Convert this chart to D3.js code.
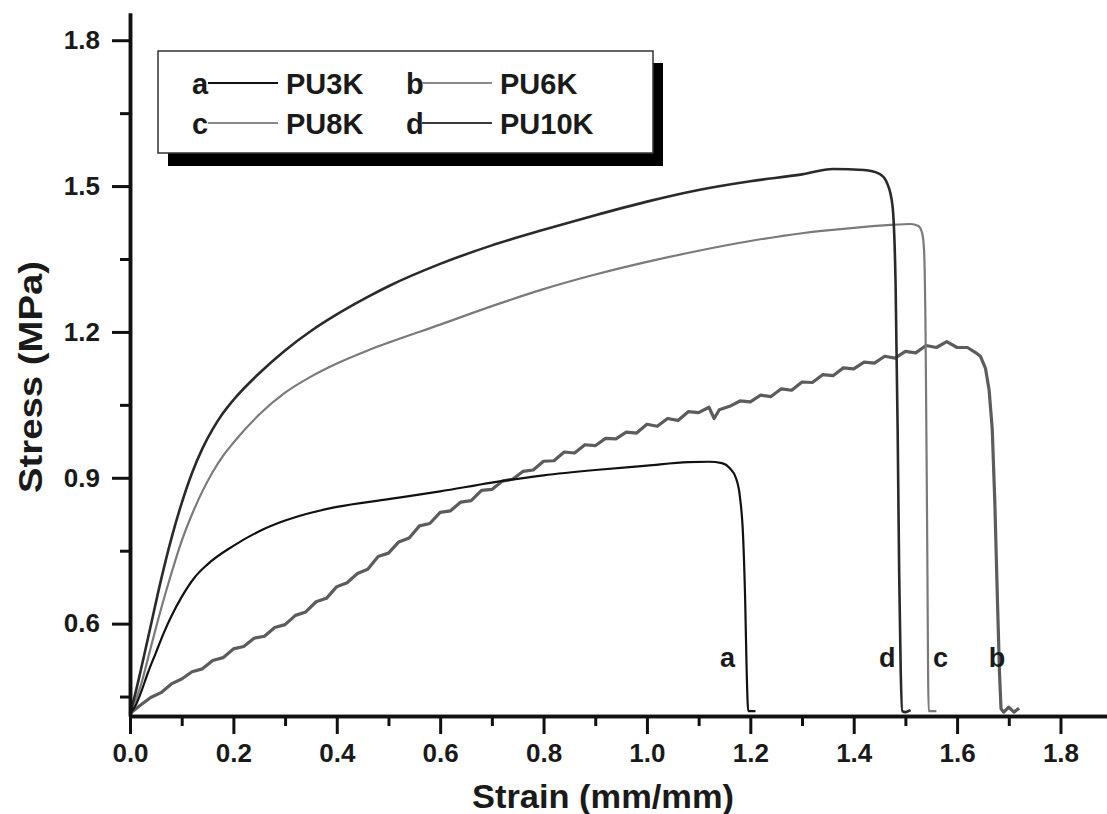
<!DOCTYPE html>
<html>
<head>
<meta charset="utf-8">
<script src="https://cdn.jsdelivr.net/npm/d3@7"></script>
<style>
  body { margin: 0; background: #fff; }
  svg text { font-family: "Liberation Sans", Arial, sans-serif; font-weight: bold; fill: #1a1a1a; }
</style>
</head>
<body>
<svg id="chart" width="1107" height="814"></svg>
<script>
// 試料名と凡例の記号
const seriesKeys = ["a", "b", "c", "d"];
const seriesNames = ["PU3K", "PU6K", "PU8K", "PU10K"];

// a: PU3K
const strainPU3K = [0, 0.01, 0.02, 0.035, 0.05, 0.065, 0.08, 0.1, 0.125, 0.15, 0.2, 0.25, 0.3, 0.35, 0.4, 0.5, 0.6, 0.7, 0.8, 0.9, 1.0, 1.08, 1.12, 1.145, 1.16, 1.172, 1.18, 1.186, 1.19, 1.193, 1.196, 1.21];
const stressPU3K = [0.415, 0.43, 0.455, 0.5, 0.54, 0.58, 0.615, 0.655, 0.695, 0.722, 0.76, 0.79, 0.812, 0.828, 0.84, 0.856, 0.872, 0.89, 0.905, 0.916, 0.925, 0.932, 0.933, 0.93, 0.92, 0.9, 0.86, 0.78, 0.65, 0.5, 0.42, 0.42];

// b: PU6K (ノイズの多い曲線)
const strainPU6K = [0, 0.02, 0.04, 0.06, 0.08, 0.1, 0.12, 0.14, 0.16, 0.18, 0.2, 0.22, 0.24, 0.26, 0.28, 0.3, 0.32, 0.34, 0.36, 0.38, 0.4, 0.42, 0.44, 0.46, 0.48, 0.5, 0.52, 0.54, 0.56, 0.58, 0.6, 0.62, 0.64, 0.66, 0.68, 0.7, 0.72, 0.74, 0.76, 0.78, 0.8, 0.82, 0.84, 0.86, 0.88, 0.9, 0.92, 0.94, 0.96, 0.98, 1.0, 1.02, 1.04, 1.06, 1.08, 1.1, 1.12, 1.13, 1.14, 1.16, 1.18, 1.2, 1.22, 1.24, 1.26, 1.28, 1.3, 1.32, 1.34, 1.36, 1.38, 1.4, 1.42, 1.44, 1.46, 1.48, 1.5, 1.52, 1.54, 1.56, 1.58, 1.6, 1.62, 1.635, 1.645, 1.655, 1.662, 1.668, 1.673, 1.678, 1.682, 1.685, 1.69, 1.7, 1.71, 1.72];
const stressPU6K = [0.415, 0.432, 0.448, 0.458, 0.476, 0.486, 0.501, 0.507, 0.524, 0.53, 0.548, 0.553, 0.57, 0.574, 0.592, 0.598, 0.617, 0.624, 0.645, 0.652, 0.676, 0.684, 0.703, 0.712, 0.738, 0.745, 0.768, 0.776, 0.801, 0.806, 0.829, 0.832, 0.85, 0.853, 0.874, 0.876, 0.893, 0.897, 0.913, 0.916, 0.934, 0.935, 0.953, 0.951, 0.968, 0.966, 0.981, 0.98, 0.994, 0.992, 1.01, 1.006, 1.022, 1.018, 1.036, 1.034, 1.045, 1.022, 1.04, 1.047, 1.058, 1.056, 1.07, 1.067, 1.083, 1.08, 1.097, 1.096, 1.112, 1.11, 1.126, 1.124, 1.138, 1.136, 1.15, 1.146, 1.16, 1.157, 1.172, 1.168, 1.18, 1.168, 1.168, 1.158, 1.15, 1.125, 1.08, 1.0, 0.85, 0.65, 0.5, 0.425, 0.418, 0.428, 0.418, 0.426];

// c: PU8K
const strainPU8K = [0, 0.01, 0.02, 0.04, 0.06, 0.08, 0.1, 0.12, 0.14, 0.16, 0.18, 0.2, 0.25, 0.3, 0.35, 0.4, 0.46, 0.5, 0.6, 0.7, 0.8, 0.9, 1.0, 1.1, 1.2, 1.3, 1.4, 1.47, 1.51, 1.525, 1.532, 1.536, 1.539, 1.542, 1.545, 1.56];
const stressPU8K = [0.415, 0.44, 0.47, 0.55, 0.63, 0.703, 0.77, 0.825, 0.872, 0.912, 0.945, 0.972, 1.03, 1.075, 1.108, 1.135, 1.162, 1.178, 1.215, 1.253, 1.288, 1.318, 1.344, 1.367, 1.387, 1.403, 1.414, 1.42, 1.422, 1.418, 1.405, 1.37, 1.2, 0.8, 0.42, 0.42];

// d: PU10K
const strainPU10K = [0, 0.01, 0.02, 0.04, 0.06, 0.08, 0.1, 0.12, 0.14, 0.16, 0.18, 0.2, 0.25, 0.3, 0.35, 0.4, 0.46, 0.5, 0.6, 0.7, 0.8, 0.9, 1.0, 1.1, 1.2, 1.3, 1.36, 1.42, 1.45, 1.465, 1.475, 1.481, 1.485, 1.488, 1.491, 1.494, 1.5, 1.51];
const stressPU10K = [0.415, 0.455, 0.5, 0.595, 0.69, 0.775, 0.848, 0.91, 0.96, 1.0, 1.033, 1.06, 1.115, 1.162, 1.202, 1.236, 1.272, 1.294, 1.34, 1.378, 1.41, 1.44, 1.468, 1.492, 1.51, 1.524, 1.535, 1.533, 1.525, 1.505, 1.46, 1.3, 1.0, 0.7, 0.5, 0.42, 0.418, 0.422];

// 軸目盛
const strainTicks = [0, 0.2, 0.4, 0.6, 0.8, 1.0, 1.2, 1.4, 1.6, 1.8];
const strainMinorTicks = [0.1, 0.3, 0.5, 0.7, 0.9, 1.1, 1.3, 1.5, 1.7];
const stressTicks = [0.6, 0.9, 1.2, 1.5, 1.8];
const stressMinorTicks = [0.45, 0.75, 1.05, 1.35, 1.65];

// 曲線横のラベル位置 (データ座標)
const labelStrain = [1.156, 1.677, 1.568, 1.465];
const labelStress = [0.51, 0.51, 0.51, 0.51];

const seriesStrain = [strainPU3K, strainPU6K, strainPU8K, strainPU10K];
const seriesStress = [stressPU3K, stressPU6K, stressPU8K, stressPU10K];
const seriesColor = ["#111111", "#5c5c5c", "#7a7a7a", "#2a2a2a"];
const seriesWidth = [2.2, 3.2, 2.2, 2.6];
const legendColor = ["#111111", "#8a8a8a", "#8a8a8a", "#3a3a3a"];

const svg = d3.select("#chart");

const x = d3.scaleLinear().domain([0, 1.89]).range([130, 1107]);
const y = d3.scaleLinear().domain([0.41, 1.856]).range([716, 13]);

// 曲線
const drawOrder = [1, 2, 0, 3];
drawOrder.forEach(function (i) {
   const pts = seriesStrain[i].map((s, k) => [s, seriesStress[i][k]]);
   const line = d3.line()
      .x((d) => x(d[0]))
      .y((d) => y(d[1]))
      .curve(i === 1 ? d3.curveLinear : d3.curveMonotoneX);
   svg.append("path")
      .datum(pts)
      .attr("fill", "none")
      .attr("stroke", seriesColor[i])
      .attr("stroke-width", seriesWidth[i])
      .attr("stroke-linejoin", "round")
      .attr("d", line);
});

// 軸
function styleAxis(g) {
   g.selectAll("path.domain").attr("stroke", "#111").attr("stroke-width", 3.5);
   g.selectAll(".tick line").attr("stroke", "#111").attr("stroke-width", 3);
   g.selectAll(".tick text")
      .attr("fill", "#1a1a1a")
      .style("font-size", "26px")
      .style("font-family", '"Liberation Sans", Arial, sans-serif')
      .style("font-weight", "bold");
}

svg.append("g")
   .attr("transform", "translate(0,716)")
   .call(d3.axisBottom(x).tickValues(strainMinorTicks).tickSize(10).tickSizeOuter(0).tickFormat(""))
   .call(styleAxis);
svg.append("g")
   .attr("transform", "translate(0,716)")
   .call(d3.axisBottom(x).tickValues(strainTicks).tickSize(18).tickSizeOuter(0).tickPadding(10).tickFormat(d3.format(".1f")))
   .call(styleAxis);

svg.append("g")
   .attr("transform", "translate(130,0)")
   .call(d3.axisLeft(y).tickValues(stressMinorTicks).tickSize(10).tickSizeOuter(0).tickFormat(""))
   .call(styleAxis);
svg.append("g")
   .attr("transform", "translate(130,0)")
   .call(d3.axisLeft(y).tickValues(stressTicks).tickSize(18).tickSizeOuter(0).tickPadding(12).tickFormat(d3.format(".1f")))
   .call(styleAxis);

// 軸タイトル
svg.append("text")
   .attr("x", 603)
   .attr("y", 808)
   .attr("text-anchor", "middle")
   .attr("textLength", 262)
   .attr("lengthAdjust", "spacingAndGlyphs")
   .style("font-size", "33px")
   .text("Strain (mm/mm)");

svg.append("text")
   .attr("transform", "translate(42,377) rotate(-90)")
   .attr("text-anchor", "middle")
   .attr("textLength", 232)
   .attr("lengthAdjust", "spacingAndGlyphs")
   .style("font-size", "34px")
   .text("Stress (MPa)");

// 曲線ラベル
svg.selectAll("text.curve-label")
   .data(seriesKeys)
   .enter()
   .append("text")
   .attr("class", "curve-label")
   .attr("x", (d, i) => x(labelStrain[i]))
   .attr("y", (d, i) => y(labelStress[i]))
   .attr("text-anchor", "middle")
   .style("font-size", "27px")
   .text((d) => d);

// 凡例
const legend = svg.append("g").attr("transform", "translate(158,51)");
legend.append("rect")
   .attr("x", 10).attr("y", 12)
   .attr("width", 495).attr("height", 103)
   .attr("fill", "#000");
legend.append("rect")
   .attr("x", 0).attr("y", 0)
   .attr("width", 495).attr("height", 102)
   .attr("fill", "#fff")
   .attr("stroke", "#333")
   .attr("stroke-width", 1.5);

const item = legend.selectAll("g.item")
   .data(seriesKeys)
   .enter()
   .append("g")
   .attr("class", "item")
   .attr("transform", (d, i) => "translate(" + (34 + (i % 2) * 214) + "," + (32 + Math.floor(i / 2) * 40) + ")");

item.append("text")
   .attr("x", 0)
   .attr("y", 11)
   .style("font-size", "29px")
   .text((d) => d);
item.append("line")
   .attr("x1", 16).attr("x2", 86)
   .attr("y1", 0).attr("y2", 0)
   .attr("stroke", (d, i) => legendColor[i])
   .attr("stroke-width", 2.2);
item.append("text")
   .attr("x", 94)
   .attr("y", 11)
   .style("font-size", "29px")
   .text((d, i) => seriesNames[i]);
</script>
</body>
</html>
